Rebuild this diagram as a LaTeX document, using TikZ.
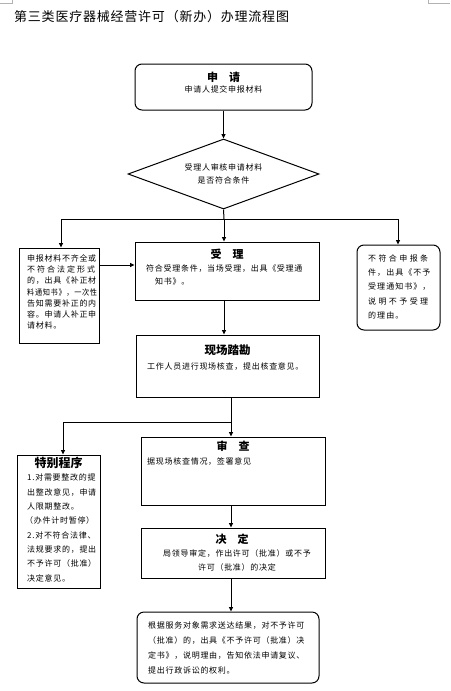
\documentclass[tikz,border=0pt]{standalone}
\usepackage{fontspec}
\usepackage{graphicx}
\usetikzlibrary{shapes.geometric,arrows.meta}
\newfontfamily\cjk{Noto Sans CJK SC}[LetterSpace=9]
\newfontfamily\cjkt{Noto Sans CJK SC}[LetterSpace=6]
\newfontfamily\cjkb{Noto Sans CJK SC}
\newcommand{\fitw}[2]{\resizebox{#1}{\height}{#2}}
\newcommand{\wide}[2]{{\addfontfeature{LetterSpace=#1}#2}}
\tikzset{
  box/.style={draw, line width=1pt, inner sep=0pt},
  rbox/.style={box, rounded corners=7pt},
  arr/.style={-{Triangle[length=4.5pt,width=4pt]}, line width=1pt},
  ln/.style={line width=1pt},
  body/.style={font=\cjk\fontsize{8}{11}\selectfont, inner sep=0pt},
  ttl/.style={font=\cjkb\bfseries\fontsize{11}{13}\selectfont, inner sep=0pt},
}
\begin{document}
\begin{tikzpicture}[x=1pt,y=-1pt]
\useasboundingbox[fill=white] (0,0) rectangle (450,691);
% page corner marks
\draw[gray!60, line width=0.6pt] (0,3.3) -- (12.7,3.3) -- (12.7,0);
\draw[gray!60, line width=0.6pt] (428,0) -- (428,3.3) -- (450,3.3);
% title
\node[font=\cjkt\fontsize{13}{15}\selectfont, anchor=west, inner sep=0pt] (title) at (14,17) {第三类医疗器械经营许可（新办）办理流程图};

% apply
\node[rbox, minimum width=177pt, minimum height=46pt] (apply) at (223.5,87) {};
\node[ttl] (applyt) at (223.5,77) {申\hspace{1em}请};
\node[body] (applyb) at (223.5,89) {申请人提交申报材料};

% diamond
\node[draw, diamond, ln, minimum width=191pt, minimum height=70pt, inner sep=0pt] (dia) at (223.5,174) {};
\node[body, align=center, font=\cjk\fontsize{8}{13}\selectfont] (diat) at (223.5,173.5) {受理人审核申请材料\\是否符合条件};

% left box
\node[box, minimum width=80pt, minimum height=95pt] (lbox) at (59,295.5) {};
\node[body, anchor=north west, align=left, font=\cjk\fontsize{8}{11.2}\selectfont] (lboxt) at (27,254.5) {申报材料不齐全或\\\wide{25}{不符合法定形式}\\的，出具《补正材\\\fitw{70pt}{料通知书》，一次性}\\告知需要补正的内\\容。申请人补正申\\请材料。};

% accept box
\node[box, minimum width=184pt, minimum height=58pt] (acc) at (227,271) {};
\node[ttl] (acct) at (227,254) {受\hspace{1em}理};
\node[body, anchor=north west, align=left, font=\cjk\fontsize{8}{13}\selectfont] (accb) at (146,265) {符合受理条件，当场受理，出具《受理通\\\hspace{9pt}知书》。};

% right box
\node[rbox, minimum width=83pt, minimum height=85pt] (rbx) at (398.5,287.5) {};
\node[body, anchor=north west, align=left, font=\cjk\fontsize{8}{14.2}\selectfont] (rbxt) at (368,254.5) {\wide{30}{不符合申报条}\\\wide{13}{件，出具《不予}\\\wide{13}{受理通知书》，}\\\wide{30}{说明不予受理}\\\wide{13}{的理由。}};

% site inspection
\node[box, minimum width=183pt, minimum height=62pt] (xc) at (227.5,366) {};
\node[ttl, font=\cjkb\bfseries\fontsize{11.5}{13}\selectfont] (xct) at (227.5,350) {现场踏勘};
\node[body, anchor=west] (xcb) at (147,367) {工作人员进行现场核查，提出核查意见。};

% special procedure
\node[box, minimum width=83pt, minimum height=133pt] (sp) at (58.5,521.5) {};
\node[ttl, font=\cjkb\bfseries\fontsize{12}{14}\selectfont] (spt) at (58.5,463) {特别程序};
\node[body, anchor=north west, align=left, font=\cjk\fontsize{8}{14.3}\selectfont] (spb) at (27,474) {1.对需要整改的提\\出整改意见，申请\\人限期整改。\\\hspace{-2pt}（办件计时暂停）\\2.对不符合法律、\\法规要求的，提出\\不予许可（批准）\\决定意见。};

% review
\node[box, minimum width=184pt, minimum height=68pt] (sc) at (233,471) {};
\node[ttl] (sct) at (233,446) {审\hspace{1em}查};
\node[body, anchor=west] (scb) at (147,462) {据现场核查情况，签署意见};

% decision
\node[box, minimum width=184pt, minimum height=50pt] (jd) at (233,553) {};
\node[ttl] (jdt) at (232,539) {决\hspace{1em}定};
\node[body, align=center, font=\cjk\fontsize{8}{14}\selectfont] (jdb) at (237,560) {局领导审定，作出许可（批准）或不予\\许可（批准）的决定};

% final
\node[rbox, minimum width=182pt, minimum height=71pt] (fin) at (228,647.5) {};
\node[body, anchor=north west, align=left, font=\cjk\fontsize{8}{14.7}\selectfont] (finb) at (148,622) {根据服务对象需求送达结果，对不予许可\\（批准）的，出具《不予许可（批准）决\\定书》，说明理由，告知依法申请复议、\\提出行政诉讼的权利。};

% connectors
\coordinate (xa) at (224,0);
\coordinate (xb) at (231,0);
\coordinate (brc) at (224,219);
\coordinate (brl) at (61,219);
\coordinate (brr) at (398,219);
\coordinate (y1) at (0,265);
\coordinate (j2) at (231,422);
\coordinate (j2l) at (63,422);

\draw[arr] (apply.south) -- (dia.north);
\draw[ln] (dia.south) -- (brc);
\draw[ln] (brl) -- (brr);
\draw[arr] (brl) -- (brl |- lbox.north);
\draw[arr] (brc) -- (brc |- acc.north);
\draw[arr] (brr) -- (brr |- rbx.north);
\draw[arr] (lbox.east |- y1) -- (acc.west |- y1);
\draw[arr] (xa |- acc.south) -- (xa |- xc.north);
\draw[ln] (xb |- xc.south) -- (j2);
\draw[ln] (j2) -- (j2l);
\draw[arr] (j2l) -- (j2l |- sp.north);
\draw[arr] (j2) -- (j2 |- sc.north);
\draw[arr] (xb |- sc.south) -- (xb |- jd.north);
\draw[arr] (xb |- jd.south) -- (xb |- fin.north);
\end{tikzpicture}
\end{document}
